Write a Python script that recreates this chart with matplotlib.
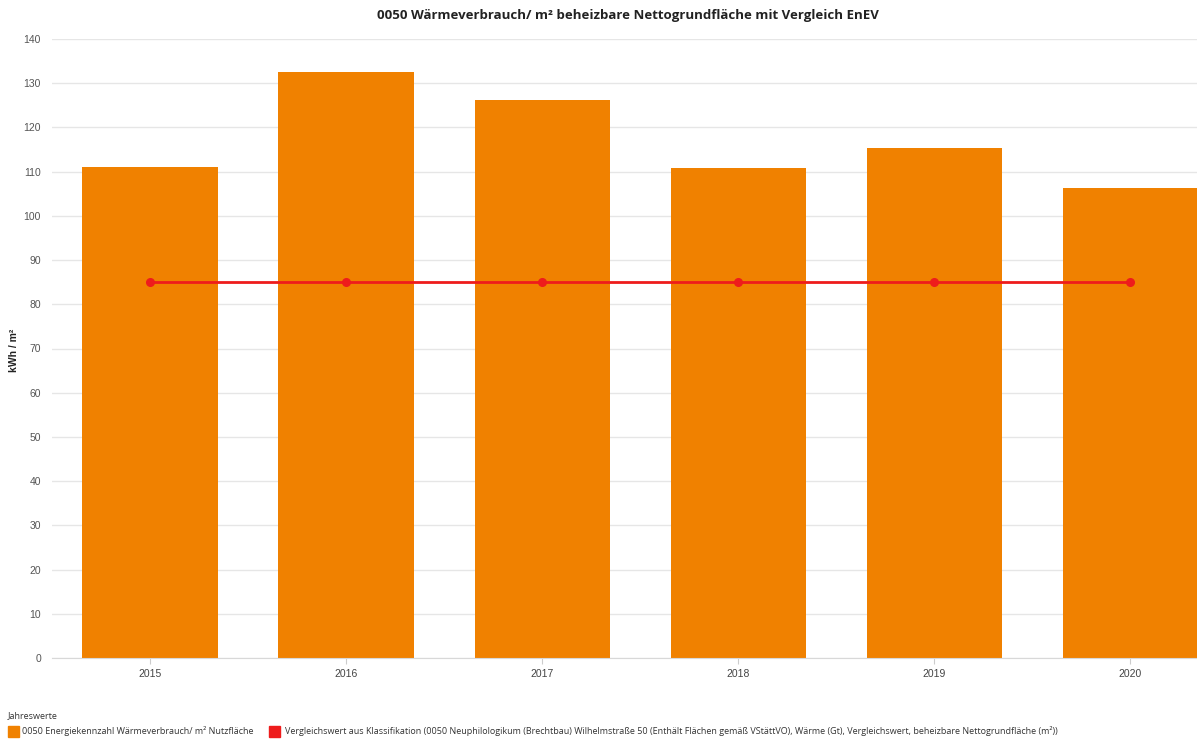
import matplotlib
matplotlib.use("Agg")
import matplotlib.pyplot as plt
from matplotlib.patches import Rectangle

years = ["2015", "2016", "2017", "2018", "2019", "2020"]
verbrauch = [111.0, 132.5, 126.1, 110.8, 115.3, 106.2]
vergleich = [85, 85, 85, 85, 85, 85]
yticks = [0, 10, 20, 30, 40, 50, 60, 70, 80, 90, 100, 110, 120, 130, 140]

title = "0050 Wärmeverbrauch/ m² beheizbare Nettogrundfläche mit Vergleich EnEV"
ylabel = "kWh / m²"
legend_title = "Jahreswerte"
legend_labels = [
    "0050 Energiekennzahl Wärmeverbrauch/ m² Nutzfläche",
    "Vergleichswert aus Klassifikation (0050 Neuphilologikum (Brechtbau) Wilhelmstraße 50 (Enthält Flächen gemäß VStättVO), Wärme (Gt), Vergleichswert, beheizbare Nettogrundfläche (m²))",
]
orange = "#F08100"
red = "#EE1C1C"

W, H = 1197, 740
fig = plt.figure(figsize=(W / 100, H / 100), dpi=100)
ax = fig.add_axes([52 / W, (H - 658) / H, 1 - 52 / W, (658 - 39) / H])

x = list(range(len(years)))
ax.bar(x, verbrauch, width=0.69, color=orange, zorder=2)
ax.plot(x, vergleich, color=red, lw=2, marker="o", ms=5.5, zorder=3)

ax.set_ylim(0, 140)
ax.set_xlim(-0.5, 5.34)
ax.set_yticks(yticks)
ax.set_xticks(x)
ax.set_xticklabels(years)
ax.grid(axis="y", color="#E6E6E6", lw=1, zorder=0)
for s in ["top", "right", "left"]:
    ax.spines[s].set_visible(False)
ax.spines["bottom"].set_color("#D8D8D8")
ax.tick_params(axis="y", length=0, pad=8, labelsize=7.5, labelcolor="#555555")
ax.tick_params(axis="x", length=4, color="#CCCCCC", pad=4, labelsize=7.5, labelcolor="#444444")
for lab in ax.get_xticklabels() + ax.get_yticklabels():
    lab.set_family("Liberation Sans")

fig.text(628 / W, 1 - 15 / H, title, ha="center", va="center",
         fontsize=9.5, fontweight="bold", family="Open Sans", color="#222222")
fig.text(14 / W, 1 - 350 / H, ylabel, rotation=90, ha="center", va="center",
         fontsize=7.5, fontweight="bold", family="Liberation Sans", color="#222222")

fig.text(8 / W, 1 - 716 / H, legend_title, ha="left", va="center",
         fontsize=6.5, family="Open Sans", color="#333333")
fig.patches.append(Rectangle((8 / W, 1 - 737 / H), 11 / W, 11 / H,
                             transform=fig.transFigure, color=orange))
fig.text(22 / W, 1 - 731 / H, legend_labels[0], ha="left", va="center",
         fontsize=6.5, family="Open Sans", color="#333333")
fig.patches.append(Rectangle((269 / W, 1 - 737 / H), 11 / W, 11 / H,
                             transform=fig.transFigure, color=red))
fig.text(285 / W, 1 - 731 / H, legend_labels[1], ha="left", va="center",
         fontsize=6.5, family="Open Sans", color="#333333")

fig.savefig("out.png", dpi=100)
